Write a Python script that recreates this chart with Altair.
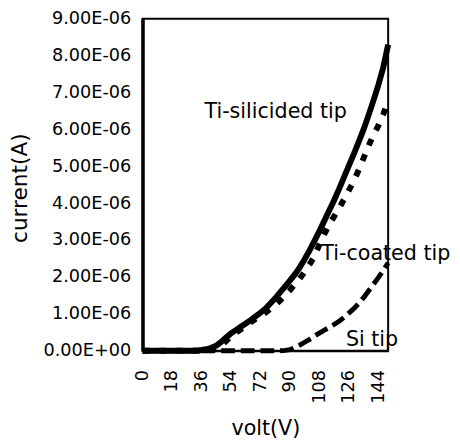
import altair as alt
import pandas as pd

volts = list(range(0, 151, 3))

# current in units of 1e-6 A
ti_silicided = [0, 0, 0, 0, 0, 0, 0, 0, 0, 0, 0,
                0.005, 0.02, 0.04, 0.08, 0.14, 0.24, 0.36, 0.47, 0.56, 0.65,
                0.74, 0.83, 0.93, 1.03, 1.14, 1.28, 1.42, 1.58, 1.74, 1.9,
                2.07, 2.26, 2.48, 2.72, 2.98, 3.24, 3.52, 3.8, 4.08, 4.38,
                4.7, 5.02, 5.33, 5.66, 6.0, 6.38, 6.78, 7.2, 7.68, 8.3]
ti_coated = [0, 0, 0, 0, 0, 0, 0, 0, 0, 0, 0,
             0, 0, 0, 0.02, 0.06, 0.14, 0.26, 0.4, 0.49, 0.58,
             0.68, 0.77, 0.86, 0.94, 1.03, 1.13, 1.24, 1.36, 1.5, 1.64,
             1.8, 1.96, 2.14, 2.34, 2.56, 2.88, 3.16, 3.42, 3.64, 3.86,
             4.1, 4.35, 4.6, 4.9, 5.22, 5.55, 5.85, 6.1, 6.4, 6.8]
si_tip = [0, 0, 0, 0, 0, 0, 0, 0, 0, 0, 0,
          0, 0, 0, 0, 0, 0, 0, 0, 0, 0,
          0, 0, 0, 0, 0, 0, 0, 0, 0.01, 0.03,
          0.08, 0.15, 0.23, 0.31, 0.4, 0.48, 0.56, 0.63, 0.71, 0.8,
          0.9, 1.02, 1.14, 1.28, 1.44, 1.62, 1.8, 1.98, 2.18, 2.38]

series_names = ["Ti-silicided tip", "Ti-coated tip", "Si tip"]
x_ticks = [0, 18, 36, 54, 72, 90, 108, 126, 144]
y_ticks = [round(i * 1e-6, 12) for i in range(10)]

# annotation anchors (data units: volt, current in 1e-6 A)
label_text = ["Ti-silicided tip", "Ti-coated tip", "Si tip"]
label_volt = [37.8, 109.2, 124.2]
label_curr = [6.47, 2.61, 0.29]

rows = []
for name, vals in zip(series_names, [ti_silicided, ti_coated, si_tip]):
    for v, c in zip(volts, vals):
        rows.append({"series": name, "volt": v, "current": c * 1e-6})
df = pd.DataFrame(rows)

labels = pd.DataFrame({"text": label_text, "volt": label_volt,
                       "current": [c * 1e-6 for c in label_curr]})

FONT = "DejaVu Sans"

xscale = alt.Scale(domain=[0, 150], nice=False, zero=False)
yscale = alt.Scale(domain=[0, 9e-6], nice=False)

xenc = alt.X("volt:Q", scale=xscale,
             axis=alt.Axis(title="volt(V)", values=x_ticks, labelAngle=270,
                           labelPadding=19, ticks=False, grid=False,
                           labelOverlap=False, labelFlush=False,
                           labelFontSize=18, titleFontSize=21,
                           titleFontWeight="normal", titleY=79,
                           titleBaseline="middle", domainWidth=2,
                           domainColor="black", labelColor="black",
                           titleColor="black", labelFont=FONT, titleFont=FONT))
yenc = alt.Y("current:Q", scale=yscale,
             axis=alt.Axis(title="current(A)", values=y_ticks,
                           labelExpr="datum.value == 0 ? '0.00E+00' : format(datum.value * 1e6, '.2f') + 'E-06'",
                           labelPadding=12, ticks=False, grid=False,
                           labelOverlap=False, labelFlush=False,
                           labelFontSize=18, titleFontSize=22,
                           titleFontWeight="normal", titleX=-125, titleY=172,
                           titleBaseline="middle", domainWidth=3.5,
                           domainColor="black", labelColor="black",
                           titleColor="black", labelFont=FONT, titleFont=FONT))

base = alt.Chart(df)

si_line = base.transform_filter(alt.datum.series == "Si tip").mark_line(
    color="black", strokeWidth=5, strokeDash=[14, 6]).encode(x=xenc, y=yenc)
coated_line = base.transform_filter(alt.datum.series == "Ti-coated tip").mark_line(
    color="black", strokeWidth=6, strokeDash=[7, 10]).encode(x=xenc, y=yenc)
sil_line = base.transform_filter(alt.datum.series == "Ti-silicided tip").mark_line(
    color="black", strokeWidth=6).encode(x=xenc, y=yenc)

text = alt.Chart(labels).mark_text(
    align="left", baseline="middle", font=FONT, fontSize=21, color="black"
).encode(x=xenc, y=yenc, text="text:N")

chart = alt.layer(si_line, coated_line, sil_line, text).properties(
    width=250, height=338,
    background="white",
    autosize=alt.AutoSizeParams(type="none"),
    padding={"left": 137, "top": 7, "right": 65, "bottom": 90},
).configure_view(stroke="black", strokeWidth=2).configure_axis(
    labelOverlap=False, labelFlush=False)

chart.save("out.html", embed_options={"renderer": "svg", "actions": False})
